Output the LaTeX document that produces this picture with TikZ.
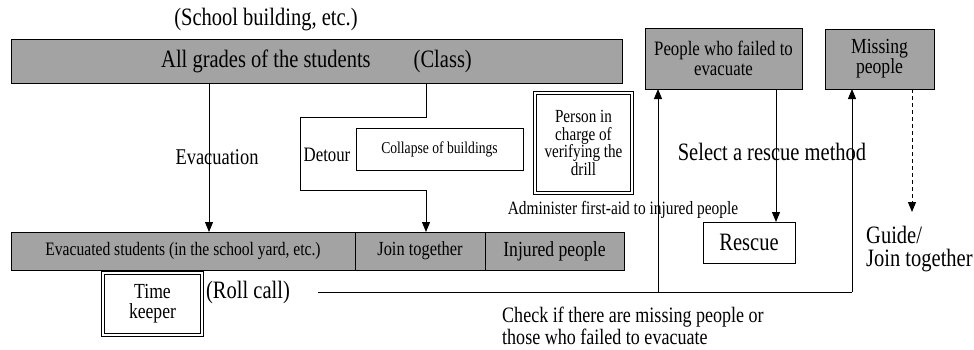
\documentclass[tikz,border=0pt]{standalone}
\usepackage{fontspec}
\setmainfont[FakeStretch=0.82]{Liberation Serif}
\usepackage{tikz}
\usetikzlibrary{positioning,arrows.meta}
\definecolor{cgris}{HTML}{A3A3A3}
\tikzset{
  cajag/.style={rectangle, draw=black, fill=cgris, line width=1pt,
    inner sep=0pt, outer sep=0pt, align=center},
  cajab/.style={rectangle, draw=black, fill=white, line width=0.8pt,
    inner sep=0pt, outer sep=0pt, align=center},
  cajad/.style={rectangle, draw=black, fill=white, double, double distance=2.5pt,
    line width=0.8pt, inner sep=0pt, outer sep=0pt, align=center},
  flecha/.style={-{Triangle[length=10pt,width=8pt]}, line width=1pt},
  flechad/.style={flecha, dash pattern=on 4pt off 3pt},
  linea/.style={line width=1pt},
  etq/.style={inner sep=0pt, align=center},
  fg/.style={font=\fontsize{25}{23}\selectfont},
  fm/.style={font=\fontsize{22}{22}\selectfont},
  fc/.style={font=\fontsize{20.5}{20}\selectfont},
}
\begin{document}
\begin{tikzpicture}[x=1pt, y=-1pt]
  \useasboundingbox (0,0) rectangle (974,349);
  % cajas grises
  \node[cajag, fg, minimum width=611, minimum height=44] (todos) at (316.5,61.5)
    {All grades of the students\hspace{43pt}(Class)};
  \node[etq, fg] (edificio) at (266,20) {(School building,\ etc.)};
  \node[cajag, font=\fontsize{19}{19}\selectfont, minimum width=344, minimum height=38] (evac) at (183,251)
    {Evacuated students (in the school yard, etc.)};
  \node[cajag, font=\fontsize{20}{20}\selectfont, minimum width=130, minimum height=38, right=0pt of evac] (junta)
    {Join together};
  \node[cajag, font=\fontsize{21.5}{20}\selectfont, minimum width=139, minimum height=38, right=0pt of junta] (herido)
    {Injured people};
  \node[cajag, fc, minimum width=157, minimum height=61] (fallidos) at (723.5,58.5)
    {People who failed to\\evacuate};
  \node[cajag, font=\fontsize{21.5}{20}\selectfont, minimum width=109, minimum height=60] (perdidos) at (879.5,59)
    {Missing\\people};
  % cajas blancas
  \node[cajab, font=\fontsize{16.6}{16}\selectfont, minimum width=167, minimum height=42] (colapso) at (439.5,149)
    {Collapse of buildings};
  \node[cajad, font=\fontsize{18.5}{17.5}\selectfont, minimum width=97, minimum height=100] (verif) at (583.5,143)
    {Person in\\charge of\\verifying the\\drill};
  \node[cajad, font=\fontsize{21.5}{20}\selectfont, minimum width=99, minimum height=62] (tiempo) at (152.5,304)
    {Time\\keeper};
  \node[cajab, fg, minimum width=92, minimum height=41] (rescate) at (749,242.5) {Rescue};
  % textos
  \node[etq, font=\fontsize{22.5}{22}\selectfont] (evacuacion) at (217,157) {Evacuation};
  \node[etq, fc] (rodeo) at (327,155) {Detour};
  \node[etq, font=\fontsize{18.8}{18}\selectfont] (auxilio) at (623,210) {Administer first-aid to injured people};
  \node[etq, fg] (metodo) at (772,152) {Select a rescue method};
  \node[etq, fg, align=left, anchor=north west] (guia) at (866,226) {Guide/\\Join together};
  \node[etq, fm, align=left, anchor=north west] (revisar) at (502,307)
    {Check if there are missing people or\\those who failed to evacuate};
  \node[etq, fg] (lista) at (248,292) {(Roll call)};
  % puntos de quiebre
  \coordinate (d1) at (426,117);
  \coordinate (d2) at (300,117);
  \coordinate (d3) at (300,190);
  \coordinate (d4) at (426,190);
  \coordinate (r0) at (318,292);
  \coordinate (r1) at (658,292);
  \coordinate (r2) at (852,292);
  \coordinate (g1) at (912,212);
  % flechas
  \draw[flecha] (todos.south -| 209,0) -- (evac.north -| 209,0);
  \draw[linea] (todos.south -| d1) -- (d1) -- (d2) -- (d3) -- (d4);
  \draw[flecha] (d4) -- (junta.north -| d4);
  \draw[flecha] (fallidos.south -| 776,0) -- (rescate.north -| 776,0);
  \draw[flechad] (perdidos.south -| g1) -- (g1);
  \draw[linea] (r0) -- (r2);
  \draw[flecha] (r1) -- (fallidos.south -| r1);
  \draw[flecha] (r2) -- (perdidos.south -| r2);
\end{tikzpicture}
\end{document}
